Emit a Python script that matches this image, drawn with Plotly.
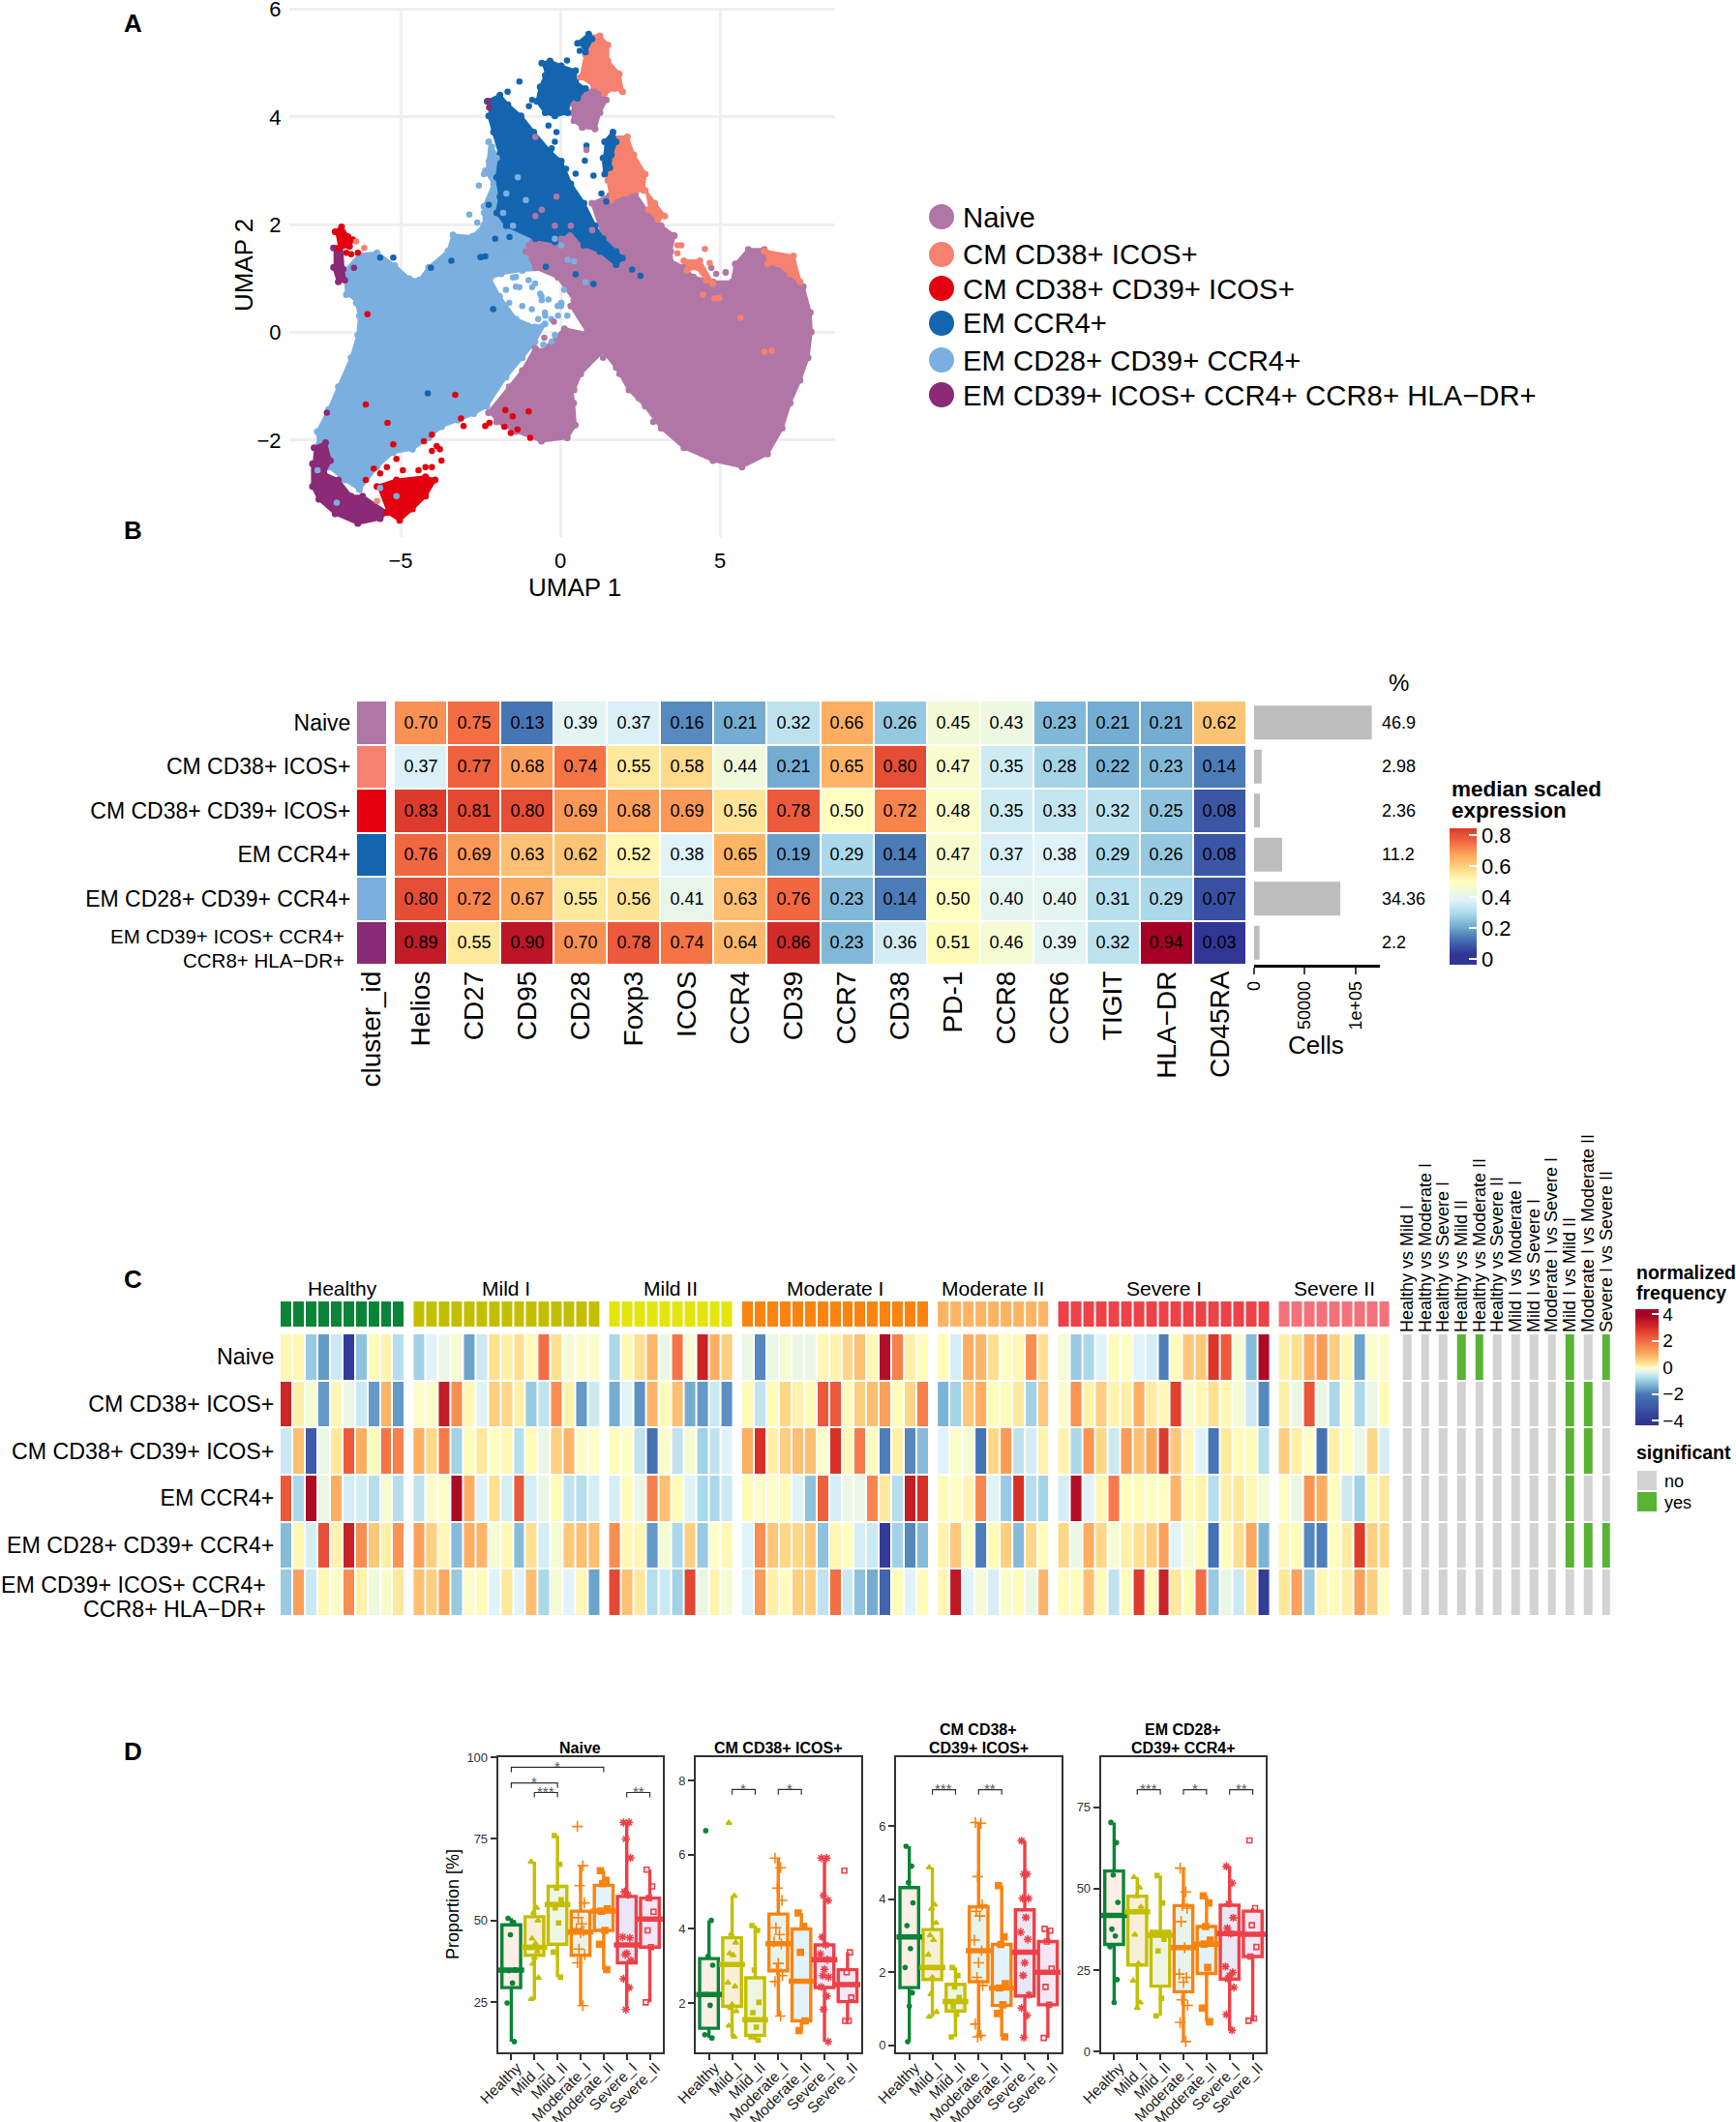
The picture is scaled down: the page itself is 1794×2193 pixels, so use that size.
import plotly.graph_objects as go

W = 1794
H = 2193
FONT = "Liberation Sans"

cluster_names = ["Naive", "CM CD38+ ICOS+", "CM CD38+ CD39+ ICOS+", "EM CCR4+", "EM CD28+ CD39+ CCR4+",
                 "EM CD39+ ICOS+ CCR4+ CCR8+ HLA\u2212DR+"]
cluster_colors = ["#B077A6", "#F7816F", "#E3000F", "#1465B0", "#7AAFE0", "#8B2A76"]

naive_x = [.33, .74, 1.95, 3.26, 3.87, 4.17, 4.78, 5.38, 5.48, 5.89, 6.39, 7.20, 7.61, 7.83, 7.86, 7.76, 7.51, 7.20, 6.95, 6.49, 5.69, 4.78, 3.87, 3.16, 2.66, 2.15, 1.75, 1.34, .84, .33, None,
           -.98, -.68, .03, .43, 1.24, 1.44, .99, 1.55, 2.35, 2.76, 3.16, 3.57, 3.46, 3.57, 1.34, .43, -.07, -.78, -1.08, None,
           -2.25, -1.60, -1.19, -.79, -.08, .32, .42, .47, .22, -.59, -1.39, -2.0, None,
           -.58, .13, .84, 1.34, .64, .43, .03, None,
           .33, .74, 1.14, 1.44, 1.24, 1.09, .69, .43, .38]
naive_y = [.91, 1.33, 1.63, 1.39, 1.21, 1.03, .94, .94, 1.27, 1.54, 1.54, 1.27, .85, .37, .01, -.47, -.89, -1.31, -1.78, -2.26, -2.50, -2.38, -2.14, -1.78, -1.37, -1.07, -.65, -.35, .01, .49, None,
           1.62, 1.98, 2.10, 1.92, 1.50, 1.62, 2.40, 2.55, 2.58, 2.22, 1.98, 1.80, 1.50, 1.02, .66, .60, 1.02, 1.20, 1.50, None,
           -1.49, -1.01, -.71, -.29, -.41, -.89, -1.31, -1.72, -1.96, -2.02, -1.84, -1.66, None,
           -.35, .07, -.02, -.35, -.77, -1.07, -.59, None,
           4.26, 4.44, 4.56, 4.32, 4.08, 3.78, 3.81, 3.93, 4.08]
cm_x = [.89, 1.24, 1.49, 1.49, 1.85, 1.95, 1.70, 1.39, 1.04, .64, .79, None,
        1.60, 2.10, 2.30, 2.66, 2.61, 2.05, 1.60, 1.49, 1.60, None,
        2.66, 2.96, 3.27, 3.06, 2.76, None,
        3.87, 4.37, 4.78, 4.57, 4.27, 3.97, None,
        6.39, 7.30, 7.51, 7.20, 6.80, 6.49]
cm_y = [5.51, 5.51, 5.34, 5.04, 4.80, 4.47, 4.53, 4.44, 4.59, 4.74, 5.16, None,
        3.63, 3.63, 3.30, 2.94, 2.64, 2.58, 2.46, 2.82, 3.30, None,
        2.64, 2.40, 2.16, 2.10, 2.28, None,
        1.33, 1.33, .91, .97, 1.21, 1.15, None,
        1.51, 1.42, .94, 1.09, 1.27, 1.27]
cm39_x = [-5.74, -5.13, -4.22, -3.92, -4.22, -4.63, -5.03, -5.43, None,
          -7.05, -6.85, -6.65, -6.5, -6.6, -6.95]
cm39_y = [-2.86, -2.74, -2.68, -2.74, -3.04, -3.28, -3.49, -3.34, None,
          1.87, 1.96, 1.78, 1.72, 1.60, 1.57]
emccr4_x = [-2.29, -1.89, -1.64, -1.23, -.83, -.32, .03, .33, .74, 1.09, 1.34, 1.75, 1.95, 1.75, 1.24, .74, .33, -.17, -.78, -1.69, -1.99, -1.89, -1.99, -1.89, -2.09, -2.24, None,
            -.58, -.32, .03, .48, .48, .79, .54, .28, .23, -.17, -.47, -.73, -.63, -.47, None,
            .54, .89, .99, .79, None,
            1.39, 1.65, 1.75, 1.60, 1.55, 1.39, 1.34]
emccr4_y = [4.29, 4.41, 4.23, 4.02, 3.72, 3.36, 3.18, 2.76, 2.40, 1.98, 1.74, 1.50, 1.38, 1.26, 1.50, 1.62, 1.92, 1.68, 1.74, 1.98, 2.22, 2.52, 2.88, 3.30, 3.72, 4.02, None,
            5.0, 5.04, 4.95, 4.86, 4.65, 4.53, 4.35, 4.32, 4.08, 4.02, 4.08, 4.29, 4.56, 4.77, None,
            5.37, 5.54, 5.45, 5.21, None,
            3.54, 3.72, 3.54, 3.30, 3.06, 2.94, 3.24]
em28_x = [-6.70, -6.73, -6.29, -5.74, -5.18, -4.73, -4.42, -4.12, -3.52, -3.36, -2.76, -2.40, -1.90, -.99, -.48, -.38, -1.19, -1.85, -2.20, -1.90, -1.39, -.79, -.48, -.79, -1.19, -1.70, -2.30, -2.71, -3.21, -3.72, -4.12, -4.63, -5.23, -5.74, -6.29, -6.75, -7.25, -7.56, -7.61, -7.25, -6.95, -6.55, -6.34, -6.29, -6.39, None,
          -2.24, -1.99, -1.89, -1.48, -1.08, -1.18, -1.99, -2.39, -2.39, -2.09, -2.34]
em28_y = [.70, 1.15, 1.45, 1.48, 1.24, 1.0, .97, 1.21, 1.51, 1.81, 1.78, 1.99, 2.11, 1.75, 1.39, 1.18, 1.15, 1.09, 1.0, .67, .25, .10, .16, -.17, -.47, -.83, -1.37, -1.51, -1.63, -1.75, -1.96, -2.17, -2.23, -2.50, -2.92, -2.74, -2.50, -2.08, -1.84, -1.43, -1.01, -.47, -.05, .31, .55, None,
          3.54, 3.30, 2.82, 2.46, 1.92, 1.50, 1.44, 1.86, 2.34, 2.76, 3.0]
em39_x = [-7.71, -7.35, -7.2, -7.4, -6.95, -6.55, -6.19, -5.43, -5.64, -6.34, -7.05, -7.56, -7.76, -7.76, None,
          -7.1, -6.85, -6.8, -6.75, -6.95, -7.1]
em39_y = [-2.14, -2.05, -2.38, -2.62, -2.74, -3.04, -3.04, -3.34, -3.46, -3.55, -3.37, -3.10, -2.86, -2.44, None,
          1.57, 1.60, 1.18, .97, .94, 1.21]

naive_dots_x = [.69, .82, 1.85, .43, 1.34, 2.91, 2.45, 4.88, 5.18, .43, 3.57, 3.31, 4.73, 5.18, -.58, -.12, -.78, -.17, .33, .03, -.47, -.78, 1.0, 1.6, -.2, -.5]
naive_dots_y = [3.80, 3.39, -.77, -.71, -.47, -1.66, -1.22, 1.09, 1.12, -1.72, 1.80, 1.68, 1.20, 1.11, 2.28, 2.52, 2.16, 1.98, 1.98, 1.74, 1.62, 3.63, 1.9, 2.1, .2, -.1]
cm_dots_x = [3.67, 3.79, 3.67, 4.53, 4.68, 4.47, 4.83, 4.98, 5.64, 6.39, 6.62, -6.14, -6.39, -5.74]
cm_dots_y = [1.62, 1.62, 1.47, 1.55, 1.29, .70, .63, .64, .27, -.36, -.34, 1.57, 1.69, -3.13]
cm39_dots_x = [-5.13, -5.43, -5.84, -4.02, -3.72, -4.02, -3.87, -3.77, -4.02, -4.27, -5.23, -4.93, -4.44, -4.22, -5.64, -6.09, -3.03, -3.11, -2.35, -2.22, -1.72, -1.49, -1.75, -1.34, -1.55, -.99, -.94, -5.41, -6.09, -3.29, -6.04, -6.55, -6.34, -6.7]
cm39_dots_y = [-2.35, -2.5, -2.53, -2.5, -2.38, -2.2, -2.11, -2.17, -1.9, -2.02, -2.08, -2.56, -2.56, -2.5, -2.62, -2.74, -1.74, -1.6, -1.74, -1.68, -1.44, -1.56, -1.75, -1.8, -1.87, -1.47, -1.96, -1.68, -1.34, -1.16, .34, 1.45, 1.48, 1.48]
emccr4_dots_x = [-1.28, -1.65, .21, .61, -.98, -.88, -.37, -.12, -.17, -.27, .82, .77, .18, .48, 1.04, 1.29, 1.44, 1.85, 2.25, 2.51, 1.04, .48, -.45, -2.49, -2.04, -1.59, -2.24, -5.64, -5.23, -4.05, -3.41, -2.5, -2.35, -4.15, -2.1]
emccr4_dots_y = [4.66, 4.47, 5.05, 5.23, 4.20, 4.32, 3.84, 3.72, 3.54, 3.42, 3.47, 3.19, 3.04, 2.95, 2.91, 2.58, 2.43, 1.38, 1.17, 1.05, .90, 1.08, 1.22, 1.40, 1.74, 1.77, 2.37, 1.39, 1.39, 1.20, 1.33, 1.4, 1.41, -1.13, .43]
em28_dots_x = [-2.55, -2.39, -2.24, -2.14, -1.99, -2.19, -2.85, -2.60, -2.70, -2.39, -1.99, -1.69, -1.79, -1.48, -1.28, -1.69, -2.09, -1.48, -1.08, -.88, -.63, -1.28, -.58, .03, -.17, .03, .43, .79, .23, -7.0, -7.6, -5.64, -5.13, -1.33, -1.08,
               -1.39, -.79, -.59, -1.19, -.89, -.48, -.08, -1.39, -.99, -1.70, -1.60, .12, .02, -.69, -.28, .22, .03, -.37, -.47, -.07, -.17, -.53, -.27]
em28_dots_y = [2.73, 2.94, 3.18, 3.45, 3.24, 2.94, 2.19, 2.04, 1.80, 2.22, 1.98, 2.58, 2.22, 1.98, 1.74, 1.50, 1.26, 1.02, 1.38, .84, .72, .84, .60, .54, 1.74, 1.62, 1.32, .93, 1.35, -3.16, -2.56, -2.89, -3.04, 2.88, 2.46,
               .85, .91, .67, .49, .43, .37, .49, 1.03, .97, .79, .55, .79, .49, .25, .25, .31, .55, .61, .31, .31, -.05, -.23, -.17]
em39_dots_x = [-6.46, -2.26, -2.23, -7.31]
em39_dots_y = [1.2, 4.3, 4.18, -1.49]

# ---- panel B
markers = ["Helios", "CD27", "CD95", "CD28", "Foxp3", "ICOS", "CCR4", "CD39", "CCR7", "CD38", "PD-1", "CCR8", "CCR6", "TIGIT", "HLA\u2212DR", "CD45RA"]
b_rows = ["Naive", "CM CD38+ ICOS+", "CM CD38+ CD39+ ICOS+", "EM CCR4+", "EM CD28+ CD39+ CCR4+", "EM CD39+ ICOS+ CCR4+ CCR8+ HLA\u2212DR+"]
expression = [
    [.70, .75, .13, .39, .37, .16, .21, .32, .66, .26, .45, .43, .23, .21, .21, .62],
    [.37, .77, .68, .74, .55, .58, .44, .21, .65, .80, .47, .35, .28, .22, .23, .14],
    [.83, .81, .80, .69, .68, .69, .56, .78, .50, .72, .48, .35, .33, .32, .25, .08],
    [.76, .69, .63, .62, .52, .38, .65, .19, .29, .14, .47, .37, .38, .29, .26, .08],
    [.80, .72, .67, .55, .56, .41, .63, .76, .23, .14, .50, .40, .40, .31, .29, .07],
    [.89, .55, .90, .70, .78, .74, .64, .86, .23, .36, .51, .46, .39, .32, .94, .03],
]
cell_counts = [116000, 7400, 5800, 27700, 85000, 5400]
percents = ["46.9", "2.98", "2.36", "11.2", "34.36", "2.2"]
expr_stops = [(-.04, "#313695"), (.03, "#313695"), (.13, "#4575b4"), (.21, "#74add1"), (.29, "#abd9e9"), (.38, "#e0f3f8"),
              (.5, "#ffffbf"), (.57, "#fee090"), (.66, "#fdae61"), (.75, "#f46d43"), (.85, "#d73027"), (.94, "#a50026")]

# ---- panel C
group_names = ["Healthy", "Mild I", "Mild II", "Moderate I", "Moderate II", "Severe I", "Severe II"]
group_colors = ["#0A8437", "#C3BF00", "#E4E50D", "#FA840F", "#FDB462", "#EE4148", "#F4717A"]
healthy_z = [
    [.1, .1, -1, -1.6, -.5, -3.8, -1.1, .05, .15, -.7],
    [3.2, .2, -.1, -1.6, .1, -.2, -.5, -1.6, .9, -1.6],
    [-.5, .8, -2.8, -.2, .3, 2.3, 1, .05, 1.9, 1.7],
    [2.3, -.8, 3.8, -.2, 1, -.4, -.4, -.7, -.1, -.7],
    [-1.2, .1, -.4, 2.5, .15, 3.3, 1.5, .7, .2, 1.4],
    [-1, 1.2, -.5, .1, -.05, 1.5, .15, -.15, -.05, .3],
]
mild1_z = [
    [-.9, -.3, -.2, -.1, -1.5, -.5, .4, .2, .4, .05, 2, .4, -.1, -.05, -.05],
    [-.05, -.05, 3.4, 1.5, .1, -.3, .6, .5, .2, -1, -.6, 1.5, .15, -1.6, -.5],
    [1, .5, 1.8, -.9, .05, .3, 0, .1, -.7, .05, -.2, .6, .9, -.05, -.03],
    [-.6, -.05, -.05, 3.8, 1, -.3, .4, -.4, 2.3, -.4, -.2, .05, -.6, -.7, -.4],
    [1.2, .6, .1, -1.2, 1, .9, -.1, .1, -1.2, .4, -.4, -.1, .7, .8, .8],
    [.8, .6, 1.1, -1, -.05, .05, -.3, .3, -.3, .8, -.8, -.1, -.3, .1, -1.5],
]
mild2_z = [
    [-.8, .1, .4, .9, -.2, 1.9, -.1, 3.3, 1, .6],
    [-1.4, -.3, -1.7, .9, .05, .8, -1.4, -1.6, -.5, -1.7],
    [.05, -.03, -.6, -2.1, -.05, -.6, -.1, -.9, -.6, -.3],
    [-.4, .05, -.2, 1.7, .8, .05, -.3, -.8, -.8, -.5],
    [1.5, .1, .1, -1.6, -.1, -.8, .6, -1, -.03, .1],
    [2.6, .8, .3, -.7, -.5, -.9, 2.6, -.2, .15, -.1],
]
moderate1_z = [
    [-.2, -1.8, -.2, -.1, -.2, -.2, .1, .15, .5, .8, .1, 3.7, 1.7, .2, .03],
    [.05, -.6, .05, .5, .15, .05, 2.3, 2.3, .05, .6, .8, 1.2, .03, .5, 1.7],
    [1, 3, .2, .6, .8, .8, -.05, 3, .1, 1.8, .02, -1.9, .2, -1.8, -1.2],
    [.05, -.05, -.05, .05, -.3, -1.1, 2.2, -.4, -.2, -.2, 1.6, .3, -.7, 3.4, 3],
    [-.3, 1.5, .7, .5, .5, .7, -1.1, .1, .03, -.4, -.5, -3.8, -.9, -1.8, -1.2],
    [-.3, 1.3, .2, .03, .6, .6, -.6, 2, -.5, -1.1, -1.4, -2.5, .03, -.3, .05],
]
moderate2_z = [
    [.05, -.4, 1, .9, .4, -.02, .1, 1.5, .4],
    [-1.3, -.9, .7, 1, .03, .05, .3, -.9, .7],
    [-.3, -.05, -.1, -2.1, .5, 1.3, -.6, -.4, .15],
    [.05, -.03, .1, 1.6, -.3, -1, 3, -.7, -.9],
    [.15, .7, -.03, -1.9, .05, .6, -1.2, .5, .05],
    [.1, 3.5, -.3, -.1, -.4, -.05, .05, -.2, .9],
]
severe1_z = [
    [-.1, -1, -.8, -.3, .05, -.02, -.3, -.4, -1.9, .05, .7, .7, 2.9, 2.3, -.1, -1.2, 3.8],
    [-.05, 1.4, .15, .6, .15, .2, 1, .25, .1, 2.7, -.1, .1, .4, .1, -.1, -.5, -1.8],
    [.15, -.8, 1.4, .5, -.5, 1.3, .8, 1.1, 2.8, .7, .1, -.3, -2, .3, .05, .05, -.7],
    [-.4, 3.7, -.3, .1, 1.8, .03, .05, -.02, .03, .9, .05, .15, -.7, .2, .3, .1, -.1],
    [.5, -.2, 1, .5, -.1, .2, .4, .6, 1.2, -.3, -.1, .05, -2.1, .05, .4, 1.1, -1.3],
    [.05, .02, .8, .05, -.6, .05, 2.8, .05, 3.3, .3, .05, 2, -1, -.2, -.5, .3, -3.8],
]
severe2_z = [
    [.2, .4, 1, 1.3, .6, .1, -1.5, -.05, -.05],
    [.2, -.2, 2.4, -.2, -.8, -.05, -.8, -.2, .05],
    [.6, .2, -.03, -2.1, .2, .02, -.2, .5, -.4],
    [-.02, -.2, 1.4, 1, .02, -.5, -.9, .1, .3],
    [.1, .05, -1.8, -1.9, .03, .25, 2.8, .6, .5],
    [.3, 1.2, -1, .1, .05, .2, 1.2, .6, -.02],
]
comparisons = ["Healthy vs Mild I", "Healthy vs Moderate I", "Healthy vs Severe I", "Healthy vs Mild II", "Healthy vs Moderate II",
               "Healthy vs Severe II", "Mild I vs Moderate I", "Mild I vs Severe I", "Moderate I vs Severe I", "Mild I vs Mild II",
               "Moderate I vs Moderate II", "Severe I vs Severe II"]
significant = [
    [0, 0, 0, 1, 1, 0, 0, 0, 0, 1, 0, 1],
    [0, 0, 0, 0, 0, 0, 0, 0, 0, 1, 1, 0],
    [0, 0, 0, 0, 0, 0, 0, 0, 0, 1, 1, 0],
    [0, 0, 0, 0, 0, 0, 0, 0, 0, 1, 0, 0],
    [0, 0, 0, 0, 0, 0, 0, 0, 0, 1, 1, 1],
    [0, 0, 0, 0, 0, 0, 0, 0, 0, 0, 0, 0],
]
freq_stops = [(-4.3, "#313695"), (-4, "#313695"), (-2, "#4575b4"), (-1.4, "#74add1"), (-.8, "#abd9e9"), (-.3, "#e0f3f8"), (0, "#ffffbf"),
              (.4, "#fee090"), (1, "#fdae61"), (2, "#f46d43"), (3, "#d73027"), (4, "#a50026"), (4.4, "#a50026")]

# ---- panel D
conditions = ["Healthy", "Mild_I", "Mild_II", "Moderate_I", "Moderate_II", "Severe_I", "Severe_II"]
cond_colors = ["#0A8437", "#C3BF00", "#C3BF00", "#FA8310", "#FA8310", "#EE4048", "#EE4048"]
cond_fills = ["#FDEEE6", "#F8EFD9", "#EEF5E2", "#E7F4EC", "#E3F3FB", "#E9E7F6", "#F6E7F6"]
cond_symbols = ["circle", "triangle-up", "square", "cross-thin-open", "square", "asterisk-open", "square-open"]
cond_sizes = [4, 5, 4, 8, 6, 7, 5]
jitter = [-.14, .1, -.04, .16, -.1, .05, -.18, .13, 0, -.07, .18]

naive_hi = [50.8, 68, 76.1, 66.8, 65.3, 80, 65.6]
naive_q3 = [48.7, 51.2, 60.5, 52.9, 60.8, 57.4, 56.9]
naive_med = [34.9, 41.8, 54.9, 46.5, 52.9, 42.6, 50.5]
naive_q1 = [29.5, 39.4, 42.8, 39.4, 47, 37.1, 41.9]
naive_lo = [13, 25.8, 32.7, 24, 35, 22.8, 25]
naive_pts = [[50.7, 49.5, 45.7, 34.9, 34.7, 30.9, 24.8, 13],
             [68, 53.9, 52.4, 50, 44.5, 43, 41.6, 40.6, 38.6, 36.8, 32.5, 26],
             [76, 67.2, 60, 56.4, 53.9, 49.3, 40.4, 32.7],
             [78.8, 66.8, 60.7, 55.4, 50.9, 49, 47.5, 46.8, 46.3, 41.3, 39.6, 37.1, 24],
             [65.3, 62.3, 61.3, 53.6, 52.9, 47, 42.8, 35],
             [80, 80, 75, 69.2, 58.9, 57.9, 45, 44.7, 40, 39.6, 37.8, 32.2, 29.5, 22.8],
             [65.6, 60.5, 56.9, 52.7, 47, 41.9, 25]]
cm_hi = [4.23, 4.89, 4.09, 5.91, 4.43, 5.91, 3.37]
cm_q3 = [3.2, 3.76, 2.68, 4.4, 4, 3.57, 2.9]
cm_med = [2.23, 3.04, 1.55, 3.6, 2.59, 3.17, 2.5]
cm_q1 = [1.32, 1.91, 1.13, 2.87, 1.52, 2.42, 2.04]
cm_lo = [1.06, 1.09, 1, 1.65, 1.26, .96, 1.52]
cm_pts = [[6.65, 4.23, 3.26, 3.02, 2.23, 1.94, 1.15, 1.06],
          [6.86, 4.89, 3.86, 3.63, 3.34, 3.29, 2.55, 2.45, 1.96, 1.87, 1.78, 1.39, 1.09],
          [4.09, 3.96, 2.89, 2.02, 1.74, 1.35, 1.09, 1],
          [5.91, 5.65, 5.1, 4.77, 4.03, 3.85, 3.65, 3.6, 3.07, 2.91, 2.74, 2.58, 1.65],
          [4.43, 4.07, 3.37, 1.52, 1.26],
          [5.91, 5.91, 4.9, 4.77, 3.78, 3.57, 3.32, 3.17, 2.91, 2.74, 2.7, 2.43, 2.19, 1.83, .96],
          [5.57, 3.37, 2.83, 2.15, 1.52, 1.52]]
cm39_hi = [5.45, 4.87, 2.13, 6.1, 4.37, 5.6, 3.19]
cm39_q3 = [4.32, 3.17, 1.67, 3.79, 2.76, 3.71, 2.84]
cm39_med = [2.97, 2.13, 1.2, 2.59, 1.57, 2.55, 2]
cm39_q1 = [1.58, 1.8, .94, 1.74, 1.09, 1.35, 1.11]
cm39_lo = [.1, .78, .23, .23, .23, .21, .2]
cm39_pts = [[5.45, 4.91, 4.46, 3.9, 3.28, 2.65, 2.13, 1.44, 1.07, .1],
            [4.87, 3.85, 3.74, 3.35, 3.01, 2.88, 2.48, 2.11, 1.86, 1.4, .91, .78],
            [2.13, 1.91, 1.6, 1.31, 1.07, .85, .23],
            [6.1, 6.08, 4.62, 3.85, 3.67, 3.54, 2.88, 2.59, 2.26, 1.86, 1.64, .58, .27, .23],
            [4.37, 2.97, 2.76, 1.69, 1.57, 1.11, .87, .23],
            [5.6, 4.69, 4.69, 4.02, 4.02, 3.5, 3.1, 2.9, 2.26, 1.91, 1.38, 1.02, .82, .21],
            [3.19, 3.14, 2.84, 2.1, 1.6, 1.11, .2]]
em28_hi = [70.3, 53.5, 54, 56.3, 47.8, 56.8, 44]
em28_q3 = [55.4, 47.7, 36.9, 44.8, 38.4, 44.9, 43.1]
em28_med = [41.8, 42.9, 35.7, 31.9, 33, 36.2, 36]
em28_q1 = [32.9, 26.6, 20.1, 18.4, 24, 22.3, 29.2]
em28_lo = [15.1, 13.4, 11, 3.1, 9.2, 6.6, 9.5]
em28_pts = [[70.3, 64.1, 54.2, 45.8, 37.6, 35.5, 32.2, 22.1, 15.1],
            [53.5, 50.3, 47.7, 44.4, 35.9, 27, 21.8, 15.1, 13.4],
            [54, 45.6, 36.2, 34.5, 30.9, 16.4, 11],
            [56.3, 49, 44.8, 44, 39.9, 31.9, 23.8, 22.8, 21.3, 15.9, 14.2, 9, 3.1],
            [47.8, 45.6, 38.4, 34.2, 33, 25.8, 13.4, 9.2],
            [56.8, 51.7, 45.4, 41.1, 37.9, 36.2, 26.1, 24.3, 23.3, 22.3, 19.7, 11.4, 6.6],
            [64.8, 44, 38.8, 32.1, 29.2, 10.2, 9.5]]
naive_brackets = [(0, 4, 96.9, "*"), (0, 2, 92.1, "*"), (1, 2, 89.2, "***"), (5, 6, 89.2, "**")]
cm_brackets = [(1, 2, 7.76, "*"), (3, 4, 7.76, "*")]
cm39_brackets = [(1, 2, 7.0, "***"), (3, 4, 7.0, "**")]
em28_brackets = [(1, 2, 80.3, "***"), (3, 4, 80.3, "*"), (5, 6, 80.3, "**")]


def px_x(p):
    return p / W


def px_y(p):
    return 1 - p / H


def xdom(a, b):
    return [px_x(a), px_x(b)]


def ydom(top, bottom):
    return [px_y(bottom), px_y(top)]


def scale_from(stops):
    lo, hi = stops[0][0], stops[-1][0]
    return [[(v - lo) / (hi - lo), c] for v, c in stops]


annots = []
shapes = []


def note(x, y, text, size, anchor="left", bold=False, color="#000000", angle=0, yanchor="middle"):
    annots.append(dict(x=px_x(x), y=px_y(y), xref="paper", yref="paper", text="<b>%s</b>" % text if bold else text, showarrow=False,
                       xanchor=anchor, yanchor=yanchor, textangle=angle, align="left", borderpad=0,
                       font=dict(family=FONT, size=size, color=color)))


fig = go.Figure()

# ---- A
expr_scale = scale_from(expr_stops)
freq_scale = scale_from(freq_stops)
umap_layers = [(em28_x, em28_y, 4), (naive_x, naive_y, 0), (cm_x, cm_y, 1), (emccr4_x, emccr4_y, 3), (em39_x, em39_y, 5), (cm39_x, cm39_y, 2)]
for xs, ys, k in umap_layers:
    fig.add_trace(go.Scatter(x=xs, y=ys, mode="lines+markers", fill="toself", fillcolor=cluster_colors[k],
                             line=dict(color=cluster_colors[k], width=3), marker=dict(color=cluster_colors[k], size=7),
                             showlegend=False, xaxis="x", yaxis="y"))
umap_dots = [(em28_dots_x, em28_dots_y, 4), (emccr4_dots_x, emccr4_dots_y, 3), (naive_dots_x, naive_dots_y, 0),
             (cm_dots_x, cm_dots_y, 1), (em39_dots_x, em39_dots_y, 5), (cm39_dots_x, cm39_dots_y, 2)]
for dx, dy, k in umap_dots:
    fig.add_trace(go.Scatter(x=dx, y=dy, mode="markers", marker=dict(color=cluster_colors[k], size=6.5),
                             showlegend=False, xaxis="x", yaxis="y"))

legend_rows = [224, 263, 298, 334, 372, 408]
for name, col, yy in zip(cluster_names, cluster_colors, legend_rows):
    shapes.append(dict(type="circle", xref="paper", yref="paper", x0=px_x(960), x1=px_x(986), y0=px_y(yy + 13), y1=px_y(yy - 13),
                       fillcolor=col, line=dict(width=0)))
    note(994, yy, name, 29.3)

note(137, 24, "A", 26, anchor="center", bold=True)
note(137, 548, "B", 26, anchor="center", bold=True)
note(137, 1322, "C", 26, anchor="center", bold=True)
note(137, 1810, "D", 26, anchor="center", bold=True)
note(594, 607, "UMAP 1", 26, anchor="center")
note(252, 274, "UMAP 2", 26, anchor="center", angle=-90)

# ---- B
fig.add_trace(go.Heatmap(z=[[i] for i in range(6)], x=["cluster_id"], y=b_rows, zmin=0, zmax=5, showscale=False, ygap=2,
                         colorscale=[[i / 5, c] for i, c in enumerate(cluster_colors)], xaxis="x2", yaxis="y2"))
fig.add_trace(go.Heatmap(z=expression, x=markers, y=b_rows, zmin=expr_stops[0][0], zmax=expr_stops[-1][0], colorscale=expr_scale,
                         showscale=False, xgap=2, ygap=2, texttemplate="%{z:.2f}", textfont=dict(family=FONT, size=18, color="#000000"),
                         xaxis="x3", yaxis="y3"))
fig.add_trace(go.Bar(x=cell_counts, y=b_rows, orientation="h", marker_color="#BDBDBD", width=.77, showlegend=False, xaxis="x4", yaxis="y4"))
for row, pct in zip(b_rows, percents):
    annots.append(dict(x=px_x(1426), xref="paper", y=row, yref="y4", text=pct, showarrow=False, xanchor="left",
                       font=dict(family=FONT, size=18, color="#000000")))
note(1445, 705, "%", 24, anchor="center")
note(1360, 1080, "Cells", 26, anchor="center")
note(1499, 815, "median scaled", 22.5, bold=True)
note(1499, 837, "expression", 22.5, bold=True)
# the long last row wraps tighter than a tick label can
note(357, 967, "EM CD39+ ICOS+ CCR4+", 20.5, anchor="right")
note(357, 992, "CCR8+ HLA\u2212DR+", 20.5, anchor="right")
# legend stops short of the darkest reds, so it gets a scale of its own (marker sits off the axis range)
fig.add_trace(go.Scatter(x=[-100], y=[-100], mode="markers", showlegend=False, xaxis="x", yaxis="y", hoverinfo="skip",
                         marker=dict(color=[0], cmin=-.0375, cmax=.844, showscale=True,
                                     colorscale=scale_from([(-.0375, "#313695"), (.03, "#313695")] + expr_stops[2:10] + [(.844, "#d93a2b")]),
                                     colorbar=dict(x=px_x(1498), xanchor="left", xpad=0, y=px_y(856), yanchor="top", ypad=0, thickness=28,
                                                   lenmode="pixels", len=141, outlinewidth=0, tickvals=[0, .2, .4, .6, .8], ticktext=["0", "0.2", "0.4", "0.6", "0.8"],
                                                   ticks="inside", ticklen=8, tickcolor="#FFFFFF", tickwidth=2,
                                                   tickfont=dict(family=FONT, size=22, color="#000000")))))

# ---- C
all_groups = [healthy_z, mild1_z, mild2_z, moderate1_z, moderate2_z, severe1_z, severe2_z]
group_gap = .62
start = 0
c_total = sum(len(g[0]) for g in all_groups) + group_gap * (len(all_groups) - 1)
for gi, z_rows in enumerate(all_groups):
    n = len(z_rows[0])
    xs = [start + i + .5 for i in range(n)]
    fig.add_trace(go.Heatmap(z=z_rows, x=xs, y=b_rows, zmin=freq_stops[0][0], zmax=freq_stops[-1][0], colorscale=freq_scale, xgap=2, ygap=2,
                             showscale=gi == 0, xaxis="x5", yaxis="y5",
                             colorbar=dict(x=px_x(1690), xanchor="left", xpad=0, y=px_y(1352.5), yanchor="top", ypad=0, thickness=24,
                                           lenmode="pixels", len=119.5, outlinewidth=0, tickvals=[-4, -2, 0, 2, 4], ticks="inside", ticklen=7,
                                           tickcolor="#FFFFFF", tickwidth=2, tickfont=dict(family=FONT, size=19, color="#000000"))))
    fig.add_trace(go.Heatmap(z=[[gi] * n], x=xs, y=["group"], zmin=0, zmax=6, xgap=2, showscale=False, xaxis="x6", yaxis="y6",
                             colorscale=[[i / 6, c] for i, c in enumerate(group_colors)]))
    annots.append(dict(x=start + n / 2, xref="x6", y=px_y(1331), yref="paper", text=group_names[gi], showarrow=False,
                       font=dict(family=FONT, size=21, color="#000000")))
    start += n + group_gap
fig.add_trace(go.Heatmap(z=significant, x=comparisons, y=b_rows, zmin=0, zmax=1, xgap=10, ygap=2, showscale=False, xaxis="x7", yaxis="y7",
                         colorscale=[[0, "#D3D3D3"], [1, "#59B335"]]))
note(276, 1638, "EM CD39+ ICOS+ CCR4+", 23.2, anchor="right")
note(276, 1663, "CCR8+ HLA\u2212DR+", 23.2, anchor="right")
note(1690, 1315, "normalized", 19.5, bold=True)
note(1690, 1336, "frequency", 19.5, bold=True)
note(1690, 1501, "significant", 19.5, bold=True)
shapes.append(dict(type="rect", xref="paper", yref="paper", x0=px_x(1692), x1=px_x(1712), y0=px_y(1540), y1=px_y(1520), fillcolor="#D3D3D3", line=dict(width=0)))
shapes.append(dict(type="rect", xref="paper", yref="paper", x0=px_x(1692), x1=px_x(1712), y0=px_y(1562), y1=px_y(1542), fillcolor="#59B335", line=dict(width=0)))
note(1719, 1531, "no", 18)
note(1719, 1553, "yes", 18)

# ---- D
d_panels = [
    ("Naive", naive_q1, naive_med, naive_q3, naive_lo, naive_hi, naive_pts, naive_brackets, [9.8, 100], [25, 50, 75, 100], 514.7, 1.5),
    ("CM CD38+ ICOS+", cm_q1, cm_med, cm_q3, cm_lo, cm_hi, cm_pts, cm_brackets, [.68, 8.63], [2, 4, 6, 8], 719, .14),
    ("CM CD38+<br>CD39+ ICOS+", cm39_q1, cm39_med, cm39_q3, cm39_lo, cm39_hi, cm39_pts, cm39_brackets, [-.185, 7.89], [0, 2, 4, 6], 926, .14),
    ("EM CD28+<br>CD39+ CCR4+", em28_q1, em28_med, em28_q3, em28_lo, em28_hi, em28_pts, em28_brackets, [-.1, 90.3], [0, 25, 50, 75], 1137.7, 1.5),
]
d_layout = {}
for pi, (title, q1, med, q3, lo, hi, pts, brackets, yrange, yticks, left, tip) in enumerate(d_panels):
    xa = "x%d" % (8 + pi)
    ya = "y%d" % (8 + pi)
    for c in range(7):
        fig.add_trace(go.Box(x=[c], q1=[q1[c]], median=[med[c]], q3=[q3[c]], lowerfence=[lo[c]], upperfence=[hi[c]], width=.81, whiskerwidth=0,
                             fillcolor=cond_fills[c], line=dict(color=cond_colors[c], width=3.4), boxpoints=False, showlegend=False,
                             xaxis=xa, yaxis=ya))
        fig.add_trace(go.Scatter(x=[c], y=[med[c]], mode="markers", showlegend=False, xaxis=xa, yaxis=ya,
                                 marker=dict(symbol="line-ew", size=19, line=dict(color=cond_colors[c], width=5.5))))
        fig.add_trace(go.Scatter(x=[c + jitter[j % len(jitter)] for j in range(len(pts[c]))], y=pts[c], mode="markers", showlegend=False, xaxis=xa, yaxis=ya,
                                 marker=dict(symbol=cond_symbols[c], size=cond_sizes[c], color=cond_colors[c], line=dict(color=cond_colors[c], width=1.6))))
    for a, b, yy, stars in brackets:
        fig.add_trace(go.Scatter(x=[a, a, b, b], y=[yy - tip, yy, yy, yy - tip], mode="lines", line=dict(color="#333333", width=1.2),
                                 showlegend=False, xaxis=xa, yaxis=ya))
        annots.append(dict(x=(a + b) / 2, xref=xa, y=yy, yref=ya, text=stars, showarrow=False, yanchor="middle", yshift=1,
                           font=dict(family=FONT, size=15, color="#555555")))
    panel_w = 170.5
    d_layout["xaxis%d" % (8 + pi)] = dict(domain=xdom(left, left + panel_w), anchor=ya, range=[-.573, 6.57], tickmode="array", tickvals=list(range(7)),
                                          ticktext=conditions, tickangle=-45, ticks="outside", ticklen=6, tickwidth=2, tickcolor="#333333",
                                          showline=True, mirror=True, linecolor="#333333", linewidth=2, showgrid=False, zeroline=False,
                                          ticklabeloverflow="allow", ticklabelstandoff=-7, ticklabelshift=6,
                                          tickfont=dict(family=FONT, size=15.5, color="#222222"))
    d_layout["yaxis%d" % (8 + pi)] = dict(domain=ydom(1816, 2120.7), anchor=xa, range=yrange, tickvals=yticks, ticks="outside", ticklen=6, tickwidth=2,
                                          tickcolor="#333333", showline=True, mirror=True, linecolor="#333333", linewidth=2, showgrid=False, zeroline=False,
                                          tickfont=dict(family=FONT, size=13, color="#333333"))
    lines = title.split("<br>")
    for li, text in enumerate(reversed(lines)):
        note(left + panel_w / 2, 1806 - li * 19, text, 16, anchor="center", bold=True)
note(468, 1968, "Proportion [%]", 18, anchor="center", angle=-90)

hidden = dict(showgrid=False, zeroline=False, showline=False, showticklabels=False, ticks="")
clear_tick = "rgba(0,0,0,0)"
row_top, row_bottom = 724, 997
fig.update_layout(
    template="none",
    width=W, height=H, autosize=False, margin=dict(l=0, r=0, t=0, b=0, pad=0), paper_bgcolor="#FFFFFF", plot_bgcolor="rgba(0,0,0,0)",
    font=dict(family=FONT, color="#000000"), showlegend=False, boxmode="overlay",
    xaxis=dict(domain=xdom(299, 863), anchor="y", range=[-8.485, 8.606], tickvals=[-5, 0, 5], showgrid=True, gridcolor="#EFEFEF", gridwidth=3, zeroline=False,
               ticks="outside", ticklen=5, tickcolor=clear_tick, ticklabeloverflow="allow", tickfont=dict(family=FONT, size=22)),
    yaxis=dict(domain=ydom(8, 555), anchor="x", range=[-3.80, 6.03], tickvals=[-2, 0, 2, 4, 6], showgrid=True, gridcolor="#EFEFEF", gridwidth=3, zeroline=False,
               ticks="outside", ticklen=3, tickcolor=clear_tick, ticklabeloverflow="allow", tickfont=dict(family=FONT, size=22)),
    xaxis2=dict(domain=xdom(369, 399), anchor="y2", type="category", showgrid=False, zeroline=False, tickangle=-90, ticks="", ticklen=0, tickfont=dict(family=FONT, size=28)),
    yaxis2=dict(domain=ydom(row_top, row_bottom), anchor="x2", type="category", autorange="reversed", showgrid=False, zeroline=False, ticks="outside", ticklen=1, tickcolor=clear_tick,
                tickmode="array", tickvals=b_rows[:-1], ticktext=b_rows[:-1], tickfont=dict(family=FONT, size=23)),
    xaxis3=dict(domain=xdom(407, 1288), anchor="y3", type="category", showgrid=False, zeroline=False, tickangle=-90, ticks="", ticklen=0, tickfont=dict(family=FONT, size=28)),
    yaxis3=dict(hidden, domain=ydom(row_top, row_bottom), anchor="x3", type="category", autorange="reversed"),
    xaxis4=dict(domain=xdom(1296, 1426), anchor="y4", range=[0, 124000], tickmode="array", tickvals=[0, 50000, 100000], ticktext=["0", "50000", "1e+05"],
                tickangle=-90, ticks="outside", ticklen=7, tickwidth=2, showline=True, linecolor="#000000", linewidth=2.5, showgrid=False, zeroline=False,
                tickfont=dict(family=FONT, size=18)),
    yaxis4=dict(hidden, domain=ydom(row_top, row_bottom), anchor="x4", type="category", autorange="reversed"),
    xaxis5=dict(hidden, domain=xdom(289, 1437), anchor="y5", range=[0, c_total]),
    yaxis5=dict(domain=ydom(1378, 1670), anchor="x5", type="category", autorange="reversed", showgrid=False, zeroline=False, ticks="outside", ticklen=0, tickcolor=clear_tick,
                tickmode="array", tickvals=b_rows[:-1], ticktext=b_rows[:-1], ticklabeloverflow="allow", tickfont=dict(family=FONT, size=23.2)),
    xaxis6=dict(hidden, domain=xdom(289, 1437), anchor="y6", range=[0, c_total]),
    yaxis6=dict(hidden, domain=ydom(1345, 1371), anchor="x6", type="category"),
    xaxis7=dict(domain=xdom(1444.7, 1669), anchor="y7", side="top", type="category", showgrid=False, zeroline=False, tickangle=-90, ticks="", tickfont=dict(family=FONT, size=18), dtick=1, nticks=12),
    yaxis7=dict(hidden, domain=ydom(1378, 1670), anchor="x7", type="category", autorange="reversed"),
    annotations=annots, shapes=shapes, **d_layout,
)

# the default page keeps an 8px body margin, which would push the figure off the photographed window
fig.write_html("out.html", config=dict(displayModeBar=False), post_script="document.body.style.margin='0';")
